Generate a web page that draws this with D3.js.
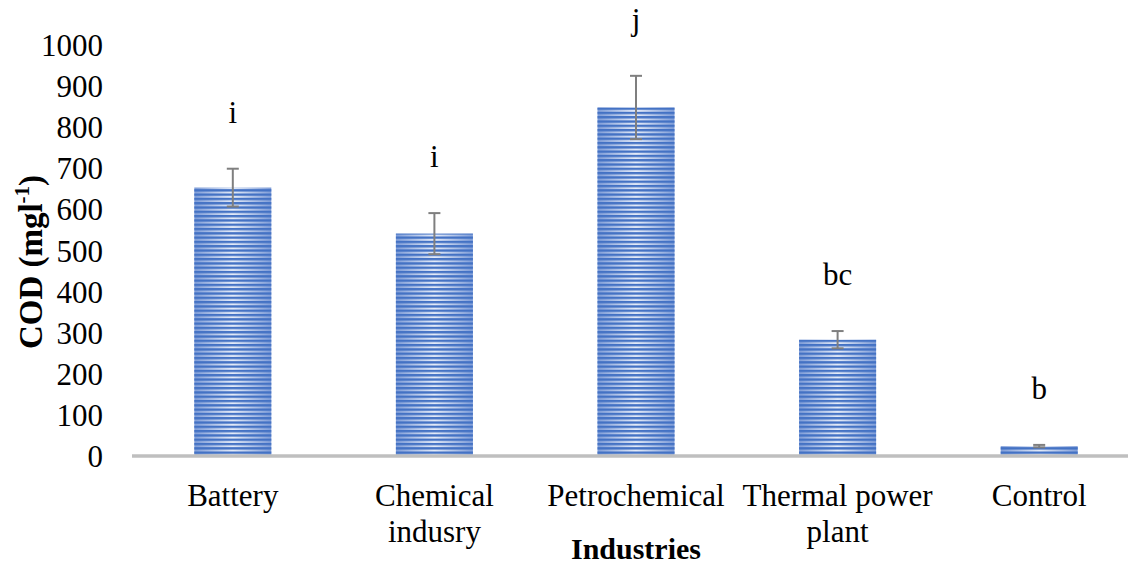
<!DOCTYPE html>
<html>
<head>
<meta charset="utf-8">
<script src="https://cdn.jsdelivr.net/npm/d3@7/dist/d3.min.js"></script>
<style>
  html, body { margin: 0; padding: 0; background: #fff; }
  svg { display: block; font-family: "Liberation Serif", "Times New Roman", serif; }
</style>
</head>
<body>
<svg id="chart" width="1128" height="566"></svg>
<script>
// COD by industry, with standard deviation and significance letters
const categories = ["Battery", "Chemical indusry", "Petrochemical", "Thermal power plant", "Control"];
const categoryLines = [["Battery"], ["Chemical", "indusry"], ["Petrochemical"], ["Thermal power", "plant"], ["Control"]];
const codValues = [653, 541, 848, 283, 24];
const codErrors = [46, 50, 77, 21, 3];
const groupLetters = ["i", "i", "j", "bc", "b"];
const yTicks = [0, 100, 200, 300, 400, 500, 600, 700, 800, 900, 1000];

const svg = d3.select("#chart");
const fontSize = 31;

const x = d3.scaleBand()
  .domain(categories)
  .range([132, 1140])
  .paddingInner(0.618)
  .paddingOuter(0.309);

const y = d3.scaleLinear().domain([0, 1000]).range([456, 45]);

// Striped bar fill: light horizontal gradient under dark horizontal lines
const defs = svg.append("defs");
const grad = defs.append("linearGradient")
  .attr("id", "barGlow")
  .attr("x1", "0%").attr("x2", "100%").attr("y1", "0%").attr("y2", "0%");
grad.append("stop").attr("offset", "0%").attr("stop-color", "#7f9dd8");
grad.append("stop").attr("offset", "50%").attr("stop-color", "#e4ebf8");
grad.append("stop").attr("offset", "100%").attr("stop-color", "#7f9dd8");

const stripes = defs.append("pattern")
  .attr("id", "stripes")
  .attr("patternUnits", "userSpaceOnUse")
  .attr("width", 8).attr("height", 4.3);
stripes.append("rect")
  .attr("x", 0).attr("y", 0).attr("width", 8).attr("height", 2.3)
  .attr("fill", "#4472c4");

const bars = svg.append("g").selectAll("g")
  .data(categories)
  .join("g");

bars.append("rect")
  .attr("x", d => x(d))
  .attr("y", (d, i) => y(codValues[i]))
  .attr("width", x.bandwidth())
  .attr("height", (d, i) => y(0) - y(codValues[i]))
  .attr("fill", "url(#barGlow)");

bars.append("rect")
  .attr("x", d => x(d))
  .attr("y", (d, i) => y(codValues[i]))
  .attr("width", x.bandwidth())
  .attr("height", (d, i) => y(0) - y(codValues[i]))
  .attr("fill", "url(#stripes)");

// Category axis line
svg.append("line")
  .attr("x1", 132).attr("x2", 1128)
  .attr("y1", y(0)).attr("y2", y(0))
  .attr("stroke", "#bfbfbf")
  .attr("stroke-width", 3.5);

// Error bars
const err = svg.append("g")
  .attr("stroke", "#7f7f7f")
  .attr("stroke-width", 2)
  .attr("fill", "none");
categories.forEach((c, i) => {
  const cx = x(c) + x.bandwidth() / 2;
  const top = y(codValues[i] + codErrors[i]);
  const bot = y(codValues[i] - codErrors[i]);
  err.append("line").attr("x1", cx).attr("x2", cx).attr("y1", top).attr("y2", bot);
  err.append("line").attr("x1", cx - 6).attr("x2", cx + 6).attr("y1", top).attr("y2", top);
  err.append("line").attr("x1", cx - 6).attr("x2", cx + 6).attr("y1", bot).attr("y2", bot);
});

// Significance letters
svg.append("g").selectAll("text")
  .data(categories)
  .join("text")
  .attr("x", d => x(d) + x.bandwidth() / 2)
  .attr("y", (d, i) => y(codValues[i] + codErrors[i]) - 46)
  .attr("text-anchor", "middle")
  .attr("font-size", fontSize)
  .attr("fill", "#000")
  .text((d, i) => groupLetters[i]);

// Value axis tick labels
const yAxis = d3.axisLeft(y).tickValues(yTicks).tickFormat(d3.format("d")).tickSize(0).tickPadding(0);
const yg = svg.append("g")
  .attr("transform", "translate(103,0)")
  .call(yAxis);
yg.select(".domain").remove();
yg.selectAll("text")
  .attr("font-size", fontSize)
  .attr("font-family", "Liberation Serif, Times New Roman, serif")
  .attr("fill", "#000")
  .attr("dy", null)
  .attr("dominant-baseline", "central");

// Category labels (wrapped)
const xl = svg.append("g");
categories.forEach((c, i) => {
  const t = xl.append("text")
    .attr("x", x(c) + x.bandwidth() / 2)
    .attr("y", 506)
    .attr("text-anchor", "middle")
    .attr("font-size", fontSize)
    .attr("fill", "#000");
  categoryLines[i].forEach((line, k) => {
    t.append("tspan")
      .attr("x", x(c) + x.bandwidth() / 2)
      .attr("dy", k === 0 ? 0 : 36)
      .text(line);
  });
});

// Axis titles
svg.append("text")
  .attr("x", (x.range()[0] + x.range()[1]) / 2)
  .attr("y", 559)
  .attr("text-anchor", "middle")
  .attr("font-size", 30)
  .attr("font-weight", "bold")
  .attr("fill", "#000")
  .text("Industries");

const yt = svg.append("text")
  .attr("transform", "translate(42,262) rotate(-90)")
  .attr("text-anchor", "middle")
  .attr("font-size", 33)
  .attr("font-weight", "bold")
  .attr("fill", "#000");
yt.append("tspan").text("COD (mgl");
yt.append("tspan").attr("font-size", 21).attr("dy", -13).text("-1");
yt.append("tspan").attr("dy", 13).text(")");
</script>
</body>
</html>
